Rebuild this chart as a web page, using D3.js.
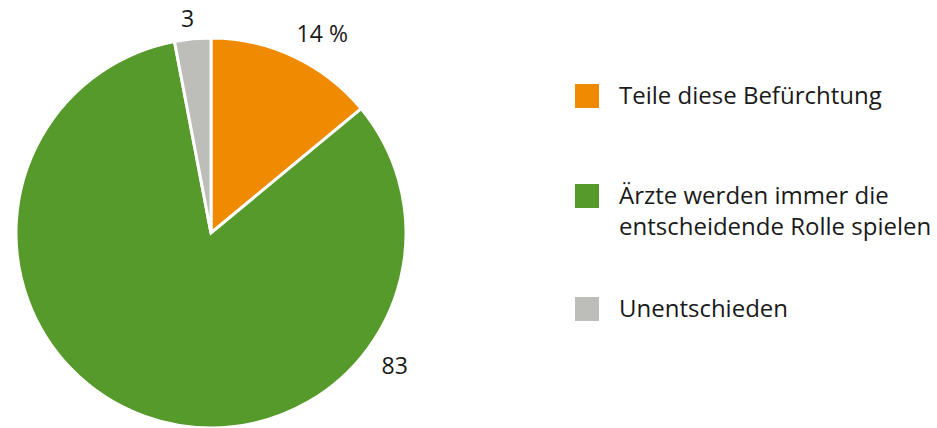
<!DOCTYPE html>
<html>
<head>
<meta charset="utf-8">
<script src="https://cdn.jsdelivr.net/npm/d3@7"></script>
<style>
  body { margin: 0; background: #fff; }
  svg { display: block; font-family: "Open Sans", "Noto Sans", sans-serif; }
</style>
</head>
<body>
<script>
const w = 937;
const h = 428;

const categories = ["Teile diese Befürchtung", "Ärzte werden immer die entscheidende Rolle spielen", "Unentschieden"];
const values = [14, 83, 3];
const valueLabels = ["14 %", "83", "3"];
const legendLines = [["Teile diese Befürchtung"], ["Ärzte werden immer die", "entscheidende Rolle spielen"], ["Unentschieden"]];
const colors = ["#f08a00", "#559a2a", "#bdbdb9"];

const cx = 211, cy = 233, radius = 195;

const svg = d3.select("body")
  .append("svg")
  .attr("width", w)
  .attr("height", h);

const pie = d3.pie().sort(null).value(d => d);
const arcs = pie(values);
const arc = d3.arc().innerRadius(0).outerRadius(radius);

const g = svg.append("g").attr("transform", "translate(" + cx + "," + cy + ")");

g.selectAll("path")
  .data(arcs)
  .enter()
  .append("path")
  .attr("d", arc)
  .attr("fill", (d, i) => colors[i])
  .attr("stroke", "#fff")
  .attr("stroke-width", 3)
  .attr("stroke-linejoin", "miter");

// label placement: angle (deg from 12 o'clock) and distance from centre
const labelPos = [
  {a: (d) => (d.startAngle + d.endAngle) / 2 + 0.07, r: 228},
  {a: (d) => 126 * Math.PI / 180, r: 227},
  {a: (d) => (d.startAngle + d.endAngle) / 2 - 0.015, r: 215}
];

g.selectAll(".val")
  .data(arcs)
  .enter()
  .append("text")
  .attr("class", "val")
  .attr("x", (d, i) => Math.sin(labelPos[i].a(d)) * labelPos[i].r)
  .attr("y", (d, i) => -Math.cos(labelPos[i].a(d)) * labelPos[i].r)
  .attr("dy", "0.35em")
  .attr("text-anchor", "middle")
  .style("font-size", "23px")
  .attr("fill", "#1a1a1a")
  .text((d, i) => valueLabels[i]);

const legendY = [84, 184, 297];

const legend = svg.selectAll(".legend")
  .data(categories)
  .enter()
  .append("g")
  .attr("class", "legend")
  .attr("transform", (d, i) => "translate(575," + legendY[i] + ")");

legend.append("rect")
  .attr("width", 24)
  .attr("height", 24)
  .attr("fill", (d, i) => colors[i]);

legend.append("text")
  .attr("x", 44)
  .attr("y", 19.5)
  .style("font-size", "24px")
  .attr("fill", "#1a1a1a")
  .selectAll("tspan")
  .data((d, i) => legendLines[i])
  .enter()
  .append("tspan")
  .attr("x", 44)
  .attr("dy", (d, j) => j === 0 ? 0 : 31)
  .text(d => d);
</script>
</body>
</html>
